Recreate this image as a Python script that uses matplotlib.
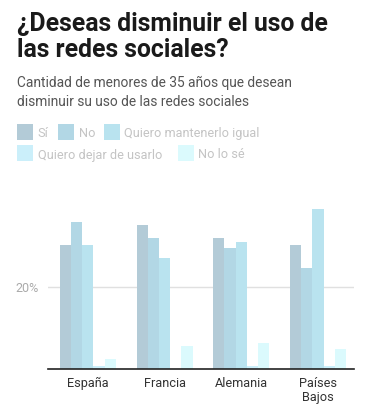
import numpy as np
import matplotlib.pyplot as plt
from matplotlib.patches import Rectangle

plt.rcParams["font.family"] = ["Roboto", "DejaVu Sans"]

# data (percent)
countries = ["España", "Francia", "Alemania", "Países\nBajos"]
series = ["Sí", "No", "Quiero mantenerlo igual", "Quiero dejar de usarlo", "No lo sé"]
si = [30.4, 35.3, 32.1, 30.4]
no = [36.0, 32.1, 29.6, 24.7]
igual = [30.4, 27.2, 31.1, 39.2]
dejar = [0.7, 0.0, 0.7, 0.7]
no_se = [2.5, 5.6, 6.4, 4.9]
colors = ["#b3cbd7", "#b2d7e5", "#b9e3ef", "#cbeffa", "#dbfafd"]

W, H = 381, 415
fig = plt.figure(figsize=(W / 100, H / 100), dpi=100)

# axes in pixel coords
left, right, top, bottom = 48, 354, 200, 369
ax = fig.add_axes([left / W, 1 - bottom / H, (right - left) / W, (bottom - top) / H])

x = np.arange(len(countries))
width = 0.146
for i, vals in enumerate([si, no, igual, dejar, no_se]):
    ax.bar(x + (i - 2) * width, vals, width, color=colors[i], zorder=1, linewidth=0)

ax.set_xlim(-0.52, 3.47)
ax.set_ylim(0, 41.4)
ax.set_yticks([20])
ax.set_yticklabels(["20%"], color="#aaaaaa", fontsize=9)
ax.yaxis.grid(True, color="#e0e0e0", linewidth=1, zorder=0)
ax.set_axisbelow(True)
ax.tick_params(axis="y", length=0, pad=7)
ax.set_xticks(x)
ax.set_xticklabels(countries, fontsize=9.2, color="#333333", linespacing=1.1)
ax.tick_params(axis="x", length=0, pad=6)
for s in ["top", "right", "left"]:
    ax.spines[s].set_visible(False)
ax.spines["bottom"].set_color("#222222")
ax.spines["bottom"].set_linewidth(1.2)

# title and subtitle
fig.text(17 / W, 1 - 31 / H, "¿Deseas disminuir el uso de", fontsize=17.8,
         fontweight="bold", color="#1a1a1a", va="baseline")
fig.text(17 / W, 1 - 57 / H, "las redes sociales?", fontsize=17.8,
         fontweight="bold", color="#1a1a1a", va="baseline")
fig.text(17 / W, 1 - 87.5 / H, "Cantidad de menores de 35 años que desean",
         fontsize=9.9, color="#555555", va="baseline")
fig.text(17 / W, 1 - 106 / H, "disminuir su uso de las redes sociales",
         fontsize=9.9, color="#555555", va="baseline")

# legend (flowing layout)
legend_pos = [(17, 132), (58, 132), (104, 132), (17, 153.5), (178, 153.5)]
for (lx, ly), name, c in zip(legend_pos, series, colors):
    fig.patches.append(Rectangle((lx / W, 1 - (ly + 8) / H), 16 / W, 16 / H,
                                 transform=fig.transFigure, color=c, linewidth=0))
    fig.text((lx + 20.5) / W, 1 - ly / H, name, fontsize=9.2, color="#c4c4c4",
             va="center_baseline")

fig.savefig("out.png", dpi=100)
